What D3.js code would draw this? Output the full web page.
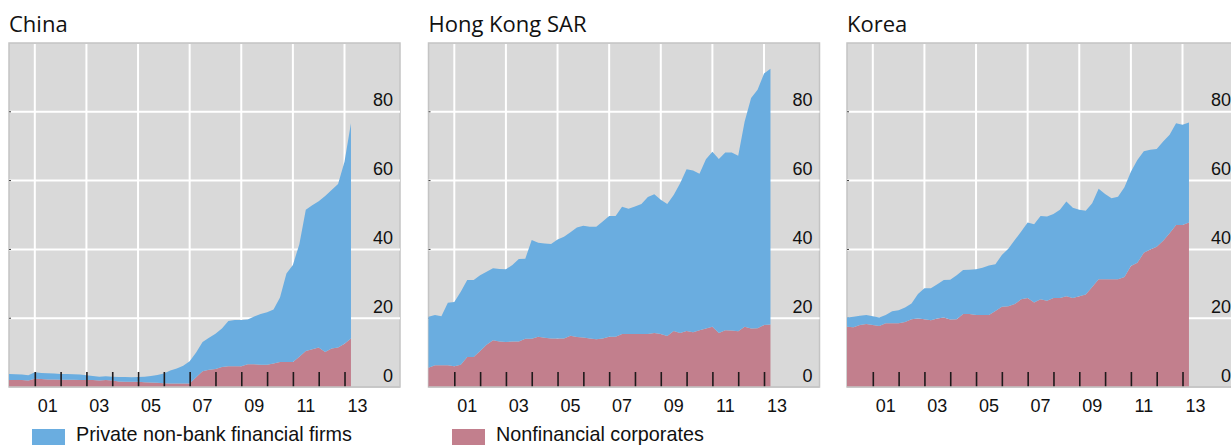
<!DOCTYPE html>
<html>
<head>
<meta charset="utf-8">
<script src="https://cdn.jsdelivr.net/npm/d3@7"></script>
<style>
  body { margin: 0; background: #ffffff; }
  svg { display: block; }
  .panel-title { font-family: "Open Sans", "Noto Sans", sans-serif; font-size: 22px; fill: #111; }
  .tick-label { font-family: "Liberation Sans", Arial, sans-serif; font-size: 18px; fill: #111; }
  .legend-label { font-family: "Liberation Sans", Arial, sans-serif; font-size: 19.8px; fill: #111; }
</style>
</head>
<body>
<svg id="chart" width="1231" height="445"></svg>
<script>
// quarterly observations, 2000Q1 .. 2013Q2
const quarters = d3.range(54).map((i) => 2000 + i / 4);
const panelNames = ["China", "Hong Kong SAR", "Korea"];
const yTicks = [0, 20, 40, 60, 80];
const yearLabels = ["01", "03", "05", "07", "09", "11", "13"];

const nonfinChina = [
  2.0, 2.0, 2.0, 1.9, 2.4, 2.3, 2.2, 2.2, 2.1, 2.1, 2.1, 2.0, 2.0, 2.0, 1.9, 2.0,
  1.9, 1.6, 1.5, 1.5, 1.5, 1.4, 1.3, 1.2, 1.1, 1.0, 1.0, 1.0, 1.0, 2.8, 4.6, 5.0,
  5.2, 5.8, 6.0, 6.0, 6.0, 6.6, 6.6, 6.5, 6.5, 6.8, 7.3, 7.3, 7.3, 8.8, 10.5, 11.0,
  11.5, 10.2, 11.2, 11.5, 12.6, 14.1
];
const finChina = [
  1.8, 1.7, 1.6, 1.5, 1.9, 1.8, 1.8, 1.7, 1.7, 1.7, 1.6, 1.6, 1.4, 1.2, 1.1, 1.1,
  1.1, 1.3, 1.4, 1.3, 1.4, 1.6, 1.9, 2.3, 2.8, 3.8, 4.4, 5.2, 6.5, 7.2, 8.5, 9.3,
  10.3, 11.2, 13.2, 13.5, 13.5, 13.0, 13.9, 14.7, 15.2, 15.7, 18.7, 25.7, 28.2, 32.7, 41.0, 41.8,
  42.5, 45.3, 46.1, 47.5, 52.9, 62.6
];

const nonfinHongKong = [
  5.6, 6.3, 6.3, 6.3, 6.0, 6.5, 8.7, 8.7, 10.5, 12.3, 13.6, 13.2, 13.1, 13.2, 13.2, 14.0,
  14.0, 14.6, 14.3, 14.1, 14.1, 14.1, 14.9, 14.5, 14.4, 14.1, 13.9, 14.1, 14.6, 14.6, 15.4, 15.4,
  15.4, 15.4, 15.4, 15.7, 15.4, 14.8, 16.3, 15.7, 16.3, 15.9, 16.5, 17.0, 17.5, 15.7, 16.5, 16.4,
  16.2, 17.5, 17.0, 17.1, 18.0, 18.2
];
const finHongKong = [
  14.8, 14.6, 14.3, 18.2, 18.7, 21.2, 22.4, 22.4, 22.0, 21.2, 20.9, 21.1, 21.1, 22.3, 24.0, 23.3,
  28.7, 27.3, 27.4, 27.5, 28.8, 29.6, 30.1, 31.9, 32.5, 32.5, 32.7, 34.0, 35.1, 35.1, 37.0, 36.4,
  37.1, 37.8, 39.8, 40.3, 39.0, 38.4, 39.5, 43.5, 47.0, 47.0, 45.5, 49.2, 50.9, 50.6, 51.7, 51.8,
  51.0, 59.7, 67.0, 69.3, 73.1, 74.3
];

const nonfinKorea = [
  17.5, 17.4, 18.0, 18.3, 18.0, 17.7, 18.5, 18.5, 18.5, 18.9, 19.7, 19.9, 19.7, 19.4, 19.9, 20.2,
  19.6, 19.7, 21.2, 21.2, 20.9, 20.9, 20.9, 22.1, 23.3, 23.5, 24.1, 25.5, 25.9, 24.6, 25.5, 25.1,
  25.9, 25.9, 26.4, 25.9, 26.4, 26.9, 29.1, 31.3, 31.3, 31.3, 31.3, 32.0, 35.2, 36.1, 39.0, 40.0,
  40.8, 42.5, 44.7, 47.1, 47.1, 47.8
];
const finKorea = [
  2.7, 3.0, 2.7, 2.6, 2.6, 2.5, 2.4, 3.5, 3.8, 4.2, 4.6, 7.1, 9.0, 9.3, 10.0, 10.9,
  11.6, 12.8, 12.8, 12.9, 13.3, 13.8, 14.4, 13.6, 15.1, 16.7, 18.6, 19.7, 21.9, 22.7, 24.2, 24.5,
  24.4, 25.6, 27.5, 26.2, 25.1, 24.3, 24.3, 26.3, 24.8, 23.6, 24.0, 26.1, 27.4, 29.9, 29.5, 29.0,
  28.4, 28.9, 28.6, 29.6, 29.1, 29.1
];

const seriesByPanel = [
  { nonfin: nonfinChina, fin: finChina },
  { nonfin: nonfinHongKong, fin: finHongKong },
  { nonfin: nonfinKorea, fin: finKorea }
];

const colors = { fin: "#6aade0", nonfin: "#c27f8d" };
const legendItems = [
  { key: "fin", label: "Private non-bank financial firms", x: 32 },
  { key: "nonfin", label: "Nonfinancial corporates", x: 452 }
];

const svg = d3.select("#chart");
const panelLeft = [9, 428.5, 847];
const panelWidth = 391;
const plotTop = 43;
const plotBottom = 387;

const x = d3.scaleLinear().domain([2000, 2015.15]).range([0, panelWidth]);
const y = d3.scaleLinear().domain([0, 100]).range([plotBottom, plotTop]);
const stack = d3.stack().keys(["nonfin", "fin"]);
const area = d3
  .area()
  .x((d) => x(d.data.t))
  .y0((d) => y(d[0]))
  .y1((d) => y(d[1]));

const oddYears = d3.range(2001, 2014, 2);
const allYears = d3.range(2001, 2014);

panelNames.forEach((name, i) => {
  const g = svg.append("g").attr("transform", `translate(${panelLeft[i]},0)`);
  const rows = quarters.map((t, k) => ({ t, nonfin: seriesByPanel[i].nonfin[k], fin: seriesByPanel[i].fin[k] }));

  g.append("text").attr("class", "panel-title").attr("x", 0).attr("y", 32).text(name);

  g.append("rect")
    .attr("x", 0)
    .attr("y", plotTop)
    .attr("width", panelWidth)
    .attr("height", plotBottom - plotTop)
    .attr("fill", "#d9d9d9")
    .attr("stroke", "#c4c4c4")
    .attr("stroke-width", 1.5);

  // grid
  g.append("g")
    .selectAll("line")
    .data(yTicks.filter((v) => v > 0))
    .join("line")
    .attr("x1", 0)
    .attr("x2", panelWidth)
    .attr("y1", (d) => y(d))
    .attr("y2", (d) => y(d))
    .attr("stroke", "#ffffff")
    .attr("stroke-width", 2);

  g.append("g")
    .selectAll("line")
    .data(oddYears)
    .join("line")
    .attr("x1", (d) => x(d))
    .attr("x2", (d) => x(d))
    .attr("y1", plotTop + 1)
    .attr("y2", plotBottom)
    .attr("stroke", "#ffffff")
    .attr("stroke-width", 2);

  // small marks on the left edge
  g.append("g")
    .selectAll("line")
    .data(yTicks.filter((v) => v > 0))
    .join("line")
    .attr("x1", 0)
    .attr("x2", 2)
    .attr("y1", (d) => y(d))
    .attr("y2", (d) => y(d))
    .attr("stroke", "#333")
    .attr("stroke-width", 1);

  g.append("g")
    .selectAll("path")
    .data(stack(rows))
    .join("path")
    .attr("fill", (d) => colors[d.key])
    .attr("d", area);

  // year ticks pointing inward
  g.append("g")
    .attr("transform", `translate(0,${plotBottom})`)
    .call(d3.axisBottom(x).tickValues(allYears).tickSize(-15).tickFormat(""))
    .call((a) => a.select(".domain").remove())
    .call((a) => a.selectAll(".tick line").attr("stroke", "#1e1a1b").attr("stroke-width", 1.6));

  g.append("line")
    .attr("x1", 0)
    .attr("x2", panelWidth)
    .attr("y1", plotBottom)
    .attr("y2", plotBottom)
    .attr("stroke", "#c4c4c4")
    .attr("stroke-width", 1.5);

  // x labels centred on the year
  g.append("g")
    .selectAll("text")
    .data(oddYears)
    .join("text")
    .attr("class", "tick-label")
    .attr("x", (d) => x(d + 0.5))
    .attr("y", 412)
    .attr("text-anchor", "middle")
    .text((d, k) => yearLabels[k]);

  // y labels sit above their gridline on the right
  g.append("g")
    .selectAll("text")
    .data(yTicks)
    .join("text")
    .attr("class", "tick-label")
    .attr("x", 384)
    .attr("y", (d) => y(d) - 5.5)
    .attr("text-anchor", "end")
    .text((d) => d);
});

const legend = svg.append("g");
legendItems.forEach((item) => {
  legend.append("rect")
    .attr("x", item.x)
    .attr("y", 429)
    .attr("width", 33)
    .attr("height", 16)
    .attr("fill", colors[item.key]);
  legend.append("text")
    .attr("class", "legend-label")
    .attr("x", item.x + 44)
    .attr("y", 440.5)
    .text(item.label);
});
</script>
</body>
</html>
